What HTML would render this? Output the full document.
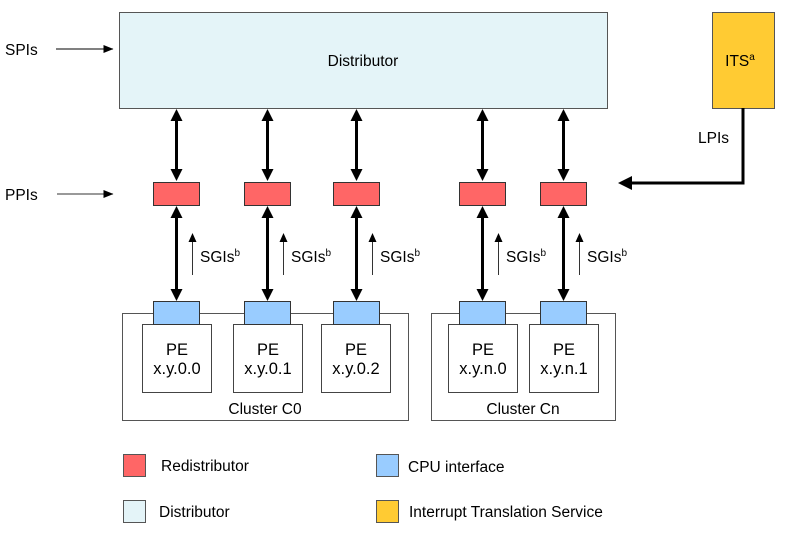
<!DOCTYPE html>
<html><head><style>
body{margin:0;background:#fff;}
svg text{font-family:"Liberation Sans",Arial,sans-serif;fill:#000;}
</style></head><body>
<svg width="793" height="528" viewBox="0 0 793 528" xmlns="http://www.w3.org/2000/svg">
<defs>
<marker id="as" markerWidth="10" markerHeight="8" refX="9.5" refY="4" orient="auto" markerUnits="userSpaceOnUse"><path d="M0,0 L10,4 L0,8 z" fill="#000"/></marker>
</defs>
<rect x="119.5" y="12.5" width="488" height="96" fill="#e4f4f8" stroke="#555" stroke-width="1"/>
<text x="363" y="66" font-size="15.5" text-anchor="middle">Distributor</text>
<rect x="712.5" y="12.5" width="62" height="96" fill="#ffcb33" stroke="#555" stroke-width="1"/>
<text x="740" y="66" font-size="15.5" text-anchor="middle">ITS<tspan font-size="10" dy="-6">a</tspan></text>
<text x="5" y="55" font-size="15.5">SPIs</text>
<line x1="56" y1="49" x2="113" y2="49" stroke="#000" stroke-width="1" marker-end="url(#as)"/>
<text x="5" y="200" font-size="15.5">PPIs</text>
<line x1="57" y1="194" x2="113" y2="194" stroke="#333" stroke-width="1" marker-end="url(#as)"/>
<text x="698" y="143" font-size="15.5">LPIs</text>
<polyline points="743,108 743,183 630,183" fill="none" stroke="#000" stroke-width="3"/>
<path d="M618,183 L632,176 L632,190 z" fill="#000"/>
<rect x="122.5" y="313.5" width="286" height="107" fill="none" stroke="#555"/>
<rect x="431.5" y="313.5" width="184" height="107" fill="none" stroke="#555"/>
<text x="265" y="414" font-size="15.5" text-anchor="middle">Cluster C0</text>
<text x="523" y="414" font-size="15.5" text-anchor="middle">Cluster Cn</text>
<g font-size="16.5" text-anchor="middle">
<rect x="142.5" y="324.5" width="69" height="68" fill="#fff" stroke="#444"/>
<text x="177" y="355">PE</text><text x="177" y="374">x.y.0.0</text>
<rect x="233.5" y="324.5" width="69" height="68" fill="#fff" stroke="#444"/>
<text x="268" y="355">PE</text><text x="268" y="374">x.y.0.1</text>
<rect x="321.5" y="324.5" width="69" height="68" fill="#fff" stroke="#444"/>
<text x="356" y="355">PE</text><text x="356" y="374">x.y.0.2</text>
<rect x="448.5" y="324.5" width="69" height="68" fill="#fff" stroke="#444"/>
<text x="483" y="355">PE</text><text x="483" y="374">x.y.n.0</text>
<rect x="529.5" y="324.5" width="69" height="68" fill="#fff" stroke="#444"/>
<text x="564" y="355">PE</text><text x="564" y="374">x.y.n.1</text>
</g>
<g fill="#ff6666" stroke="#333">
<rect x="153.5" y="182.5" width="46" height="23"/><rect x="244.5" y="182.5" width="46" height="23"/><rect x="333.5" y="182.5" width="46" height="23"/><rect x="459.5" y="182.5" width="46" height="23"/><rect x="540.5" y="182.5" width="46" height="23"/>
</g>
<g fill="#99ccff" stroke="#333">
<rect x="153.5" y="301.5" width="46" height="23"/><rect x="244.5" y="301.5" width="46" height="23"/><rect x="333.5" y="301.5" width="46" height="23"/><rect x="459.5" y="301.5" width="46" height="23"/><rect x="540.5" y="301.5" width="46" height="23"/>
</g>
<g stroke="#000" stroke-width="3" fill="#000">
<line x1="176.5" y1="120" x2="176.5" y2="170"/><path d="M176.5,109 L170.5,121 L182.5,121 z M176.5,181 L170.5,169 L182.5,169 z" stroke="none"/>
<line x1="176.5" y1="217" x2="176.5" y2="290"/><path d="M176.5,206 L170.5,218 L182.5,218 z M176.5,301 L170.5,289 L182.5,289 z" stroke="none"/>
<line x1="267.5" y1="120" x2="267.5" y2="170"/><path d="M267.5,109 L261.5,121 L273.5,121 z M267.5,181 L261.5,169 L273.5,169 z" stroke="none"/>
<line x1="267.5" y1="217" x2="267.5" y2="290"/><path d="M267.5,206 L261.5,218 L273.5,218 z M267.5,301 L261.5,289 L273.5,289 z" stroke="none"/>
<line x1="356.5" y1="120" x2="356.5" y2="170"/><path d="M356.5,109 L350.5,121 L362.5,121 z M356.5,181 L350.5,169 L362.5,169 z" stroke="none"/>
<line x1="356.5" y1="217" x2="356.5" y2="290"/><path d="M356.5,206 L350.5,218 L362.5,218 z M356.5,301 L350.5,289 L362.5,289 z" stroke="none"/>
<line x1="482.5" y1="120" x2="482.5" y2="170"/><path d="M482.5,109 L476.5,121 L488.5,121 z M482.5,181 L476.5,169 L488.5,169 z" stroke="none"/>
<line x1="482.5" y1="217" x2="482.5" y2="290"/><path d="M482.5,206 L476.5,218 L488.5,218 z M482.5,301 L476.5,289 L488.5,289 z" stroke="none"/>
<line x1="563.5" y1="120" x2="563.5" y2="170"/><path d="M563.5,109 L557.5,121 L569.5,121 z M563.5,181 L557.5,169 L569.5,169 z" stroke="none"/>
<line x1="563.5" y1="217" x2="563.5" y2="290"/><path d="M563.5,206 L557.5,218 L569.5,218 z M563.5,301 L557.5,289 L569.5,289 z" stroke="none"/>
</g>
<g stroke="#333" stroke-width="1">
<line x1="192.5" y1="275" x2="192.5" y2="240"/><line x1="283.5" y1="275" x2="283.5" y2="240"/><line x1="372.5" y1="275" x2="372.5" y2="240"/><line x1="498.5" y1="275" x2="498.5" y2="240"/><line x1="579.5" y1="275" x2="579.5" y2="240"/>
</g>
<g fill="#000">
<path d="M192.5,233 L188.5,242 L196.5,242 z"/><path d="M283.5,233 L279.5,242 L287.5,242 z"/><path d="M372.5,233 L368.5,242 L376.5,242 z"/><path d="M498.5,233 L494.5,242 L502.5,242 z"/><path d="M579.5,233 L575.5,242 L583.5,242 z"/>
</g>
<g font-size="15.5">
<text x="200" y="262">SGIs<tspan font-size="10" dy="-6">b</tspan></text>
<text x="291" y="262">SGIs<tspan font-size="10" dy="-6">b</tspan></text>
<text x="380" y="262">SGIs<tspan font-size="10" dy="-6">b</tspan></text>
<text x="506" y="262">SGIs<tspan font-size="10" dy="-6">b</tspan></text>
<text x="587" y="262">SGIs<tspan font-size="10" dy="-6">b</tspan></text>
</g>
<rect x="123.5" y="454.5" width="22" height="22" fill="#ff6666" stroke="#555"/>
<text x="161" y="471" font-size="15.5">Redistributor</text>
<rect x="376.5" y="454.5" width="22" height="22" fill="#99ccff" stroke="#555"/>
<text x="408" y="472" font-size="15.5">CPU interface</text>
<rect x="123.5" y="500.5" width="22" height="22" fill="#e4f4f8" stroke="#555"/>
<text x="159" y="517" font-size="15.5">Distributor</text>
<rect x="376.5" y="500.5" width="22" height="22" fill="#ffcb33" stroke="#555"/>
<text x="409" y="517" font-size="15.5">Interrupt Translation Service</text>
</svg>
</body></html>
